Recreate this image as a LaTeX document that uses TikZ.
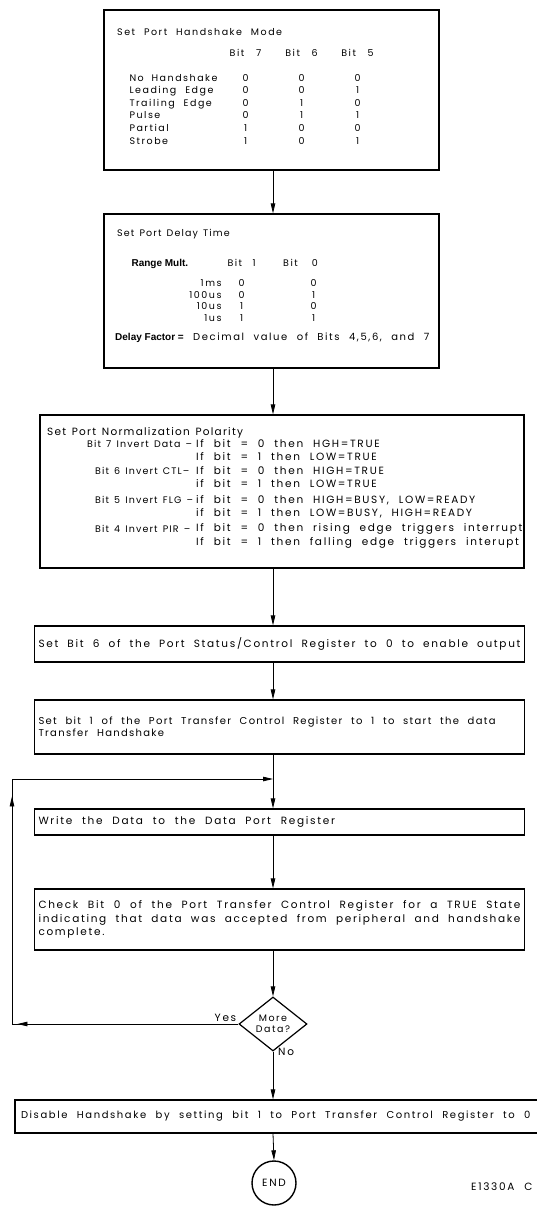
\documentclass[tikz,border=0pt]{standalone}
\usepackage{fontspec}
\setmainfont{Poppins}[LetterSpace=16,WordSpace=2.2]
\newfontfamily\tight{Poppins}[LetterSpace=12,WordSpace=1.4]
\newfontfamily\hv{Liberation Sans}
\usetikzlibrary{matrix,shapes.geometric,arrows.meta,decorations.markings}
\tikzset{
  box/.style={draw,line width=1.2pt,inner sep=0pt},
  wide/.style={execute at begin node={\spaceskip=0pt\xspaceskip=0pt}},
  stepbox/.style={box,wide,minimum width=490pt,text width=482pt,align=left,inner xsep=4pt},
  txt/.style={inner sep=0pt,anchor=west},
  small/.style={font=\fontsize{9.5}{11}\selectfont},
  head/.style={font=\hv\bfseries\fontsize{10}{11}\selectfont},
  flow/.style={-{Triangle[width=4.5pt,length=10pt]},line width=0.8pt},
  tbl/.style={matrix of nodes,anchor=north west,row sep=0pt,column sep=0pt,
    nodes={small,wide,inner sep=0pt,minimum height=12.6pt,text height=7pt,text depth=2pt}},
  back/.style={line width=0.8pt,-{Triangle[width=4.5pt,length=10pt]},
    postaction={decorate,decoration={markings,
      mark=at position 221pt with {\arrow{Triangle[width=4.5pt,length=10pt]}},
      mark=at position 454pt with {\arrow{Triangle[width=4.5pt,length=10pt]}}}}},
}

\begin{document}
\begin{tikzpicture}[x=1pt,y=-1pt,font=\fontsize{10.5}{13.5}\selectfont]
\useasboundingbox (0,0) rectangle (536,1209);
\coordinate (sp) at (273,0);

% handshake mode
\node[box,minimum width=335pt,minimum height=160pt] (hand) at (271.5,90) {};
\node[txt,small] (handT) at (117,32) {Set Port Handshake Mode};
\matrix (handM) [tbl,
  column 1/.style={nodes={text width=88pt,align=left}},
  column 2/.style={nodes={text width=56pt,align=center}},
  column 3/.style={nodes={text width=56pt,align=center}},
  column 4/.style={nodes={text width=56pt,align=center}}] at (126,43.7)
{
               & Bit 7 & Bit 6 & Bit 5 \\[12.4pt]
  No Handshake & 0 & 0 & 0 \\
  Leading Edge & 0 & 0 & 1 \\
  Trailing Edge & 0 & 1 & 0 \\
  Pulse        & 0 & 1 & 1 \\
  Partial      & 1 & 0 & 0 \\
  Strobe       & 1 & 0 & 1 \\
};

% delay time
\node[box,minimum width=335pt,minimum height=154pt] (dly) at (271.5,291) {};
\node[txt,font=\tight\fontsize{9.5}{11}\selectfont] (dlyT) at (117,234) {Set Port Delay Time};
\matrix (dlyM) [tbl,nodes={minimum height=11.5pt},
  column 1/.style={nodes={text width=90pt,align=right}},
  column 2/.style={nodes={text width=40pt,align=center}},
  column 3/.style={nodes={text width=78pt,align=center}}] at (128,255.2)
{
  |[align=left,head]| Range Mult. & Bit 1 & |[xshift=-13pt]| Bit 0 \\[8.5pt]
  1ms   & 0 & 0 \\
  100us & 0 & 1 \\
  10us  & 1 & 0 \\
  1us   & 1 & 1 \\
};
\node[txt,font=\fontsize{10}{12}\selectfont] (dlyF) at (115,338)
  {{\hv\bfseries Delay Factor =} Decimal value of Bits 4,5,6, and 7};

% polarity
\node[box,minimum width=484pt,minimum height=153pt] (pol) at (282,491.5) {};
\node[txt,font=\tight\fontsize{10.5}{12}\selectfont] (polT) at (47,433) {Set Port Normalization Polarity};
\foreach \y/\x/\t [count=\i] in {444/87/{Bit 7 Invert Data –},471/95/{Bit 6 Invert CTL–},
    500/95/{Bit 5 Invert FLG –},529/95/{Bit 4 Invert PIR –}}
  \node[txt,font=\tight\fontsize{9.5}{11}\selectfont] (polL\i) at (\x,\y) {\t};
\foreach \y/\t [count=\i] in {444/{If bit = 0 then HGH=TRUE},457/{If bit = 1 then LOW=TRUE},
    471/{If bit = 0 then HIGH=TRUE},484/{if bit = 1 then LOW=TRUE},
    500/{if bit = 0 then HIGH=BUSY, LOW=READY},513/{if bit = 1 then LOW=BUSY, HIGH=READY},
    529/{If bit = 0 then rising edge triggers interrupt},543/{If bit = 1 then falling edge triggers interupt}}
  \node[txt] (polC\i) at (196,\y) {\t};

% output steps
\node[stepbox,minimum height=36pt] (enab) at (279.5,644)
  {Set Bit 6 of the Port Status/Control Register to 0 to enable output};
\node[stepbox,minimum height=54pt,font=\addfontfeature{LetterSpace=13}] (xfer) at (279.5,727)
  {Set bit 1 of the Port Transfer Control Register to 1 to start the data\\Transfer Handshake};
\node[stepbox,minimum height=26pt] (wrt) at (279.5,822)
  {Write the Data to the Data Port Register};
\node[stepbox,minimum height=61pt] (chk) at (279.5,919.5)
  {Check Bit 0 of the Port Transfer Control Register for a TRUE State\\indicating that data was accepted from peripheral and handshake\\complete.};
\node[draw,diamond,line width=1.2pt,inner sep=0pt,minimum width=68pt,minimum height=54pt,align=center,
  font=\fontsize{9.5}{11}\selectfont] (more) at (273,1024) {More\\Data?};
\node[stepbox,minimum width=530pt,minimum height=33pt,text width=518pt,inner xsep=6pt,
  font=\fontsize{10}{12}\selectfont] (dis) at (280,1116.5)
  {Disable Handshake by setting bit 1 to Port Transfer Control Register to 0};
\node[draw,circle,line width=1.4pt,minimum size=44pt,inner sep=0pt] (fin) at (274,1183) {END};
\node[txt] (fig) at (471,1187) {E1330A C};

\node[anchor=south east,inner sep=2pt] (yesL) at (more.west) {Yes};
\node[txt] (noL) at ([xshift=5pt]more.south) {No};

% connectors
\draw[flow] (hand.south -| sp) -- (dly.north -| sp);
\draw[flow] (dly.south -| sp) -- (pol.north -| sp);
\draw[flow] (pol.south -| sp) -- (enab.north -| sp);
\draw[flow] (enab.south -| sp) -- (xfer.north -| sp);
\draw[flow] (xfer.south -| sp) -- (wrt.north -| sp);
\draw[flow] (wrt.south -| sp) -- (chk.north -| sp);
\draw[flow] (chk.south -| sp) -- (more.north);
\draw[flow] (more.south) -- (dis.north -| sp);
\draw[flow] (dis.south -| sp) -- (fin.north);

% loop back
\coordinate (jn) at (273,779);
\coordinate (lc) at (12,779);
\draw[back] (more.west) -| (lc) -- (jn);
\end{tikzpicture}
\end{document}
